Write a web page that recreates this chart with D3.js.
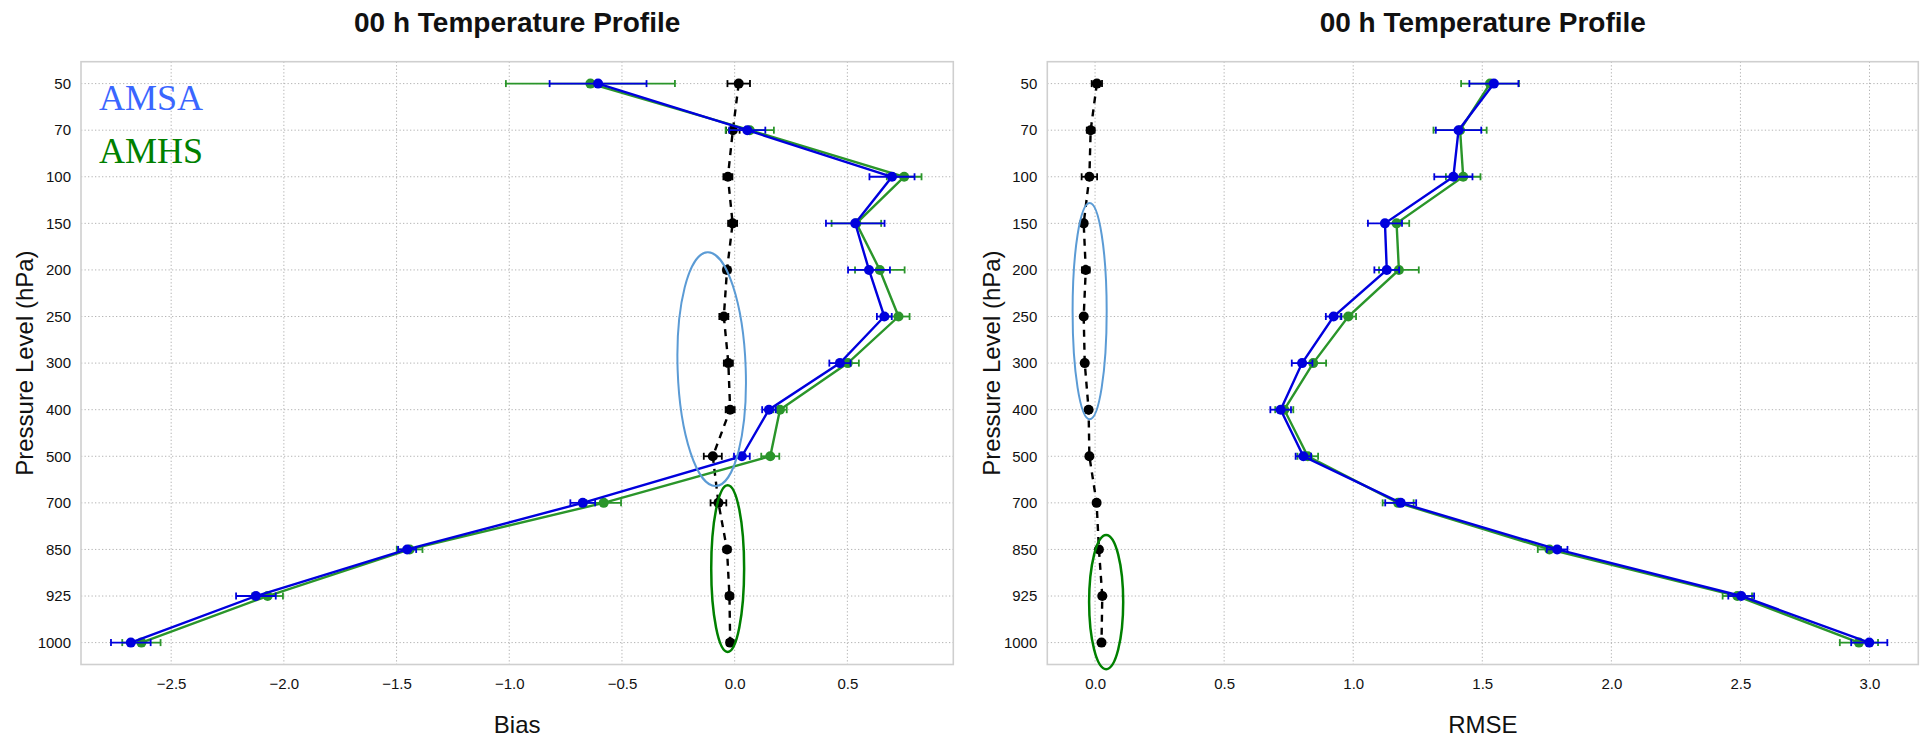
<!DOCTYPE html>
<html><head><meta charset="utf-8">
<script src="https://cdn.jsdelivr.net/npm/d3@7"></script>
<style>
body{margin:0;background:#fff;}
text{font-family:"Liberation Sans",Arial,Helvetica,sans-serif;fill:#111;}
</style>
</head><body>
<svg id="chart" width="1921" height="738"></svg>
<script>
// ---------------- DATA ----------------
const levels = ["50","70","100","150","200","250","300","400","500","700","850","925","1000"];

// Bias panel
const biasBlack    = [0.018,-0.008,-0.030,-0.009,-0.034,-0.048,-0.028,-0.020,-0.097,-0.072,-0.034,-0.023,-0.020];
const biasBlackErr = [0.050,0.030,0.020,0.020,0.015,0.020,0.020,0.020,0.040,0.035,0.015,0.015,0.015];
const biasAMSA     = [-0.606,0.056,0.698,0.535,0.596,0.664,0.467,0.152,0.032,-0.674,-1.453,-2.124,-2.679];
const biasAMSAErr  = [0.215,0.080,0.100,0.130,0.093,0.033,0.047,0.030,0.035,0.055,0.040,0.088,0.088];
const biasAMHS     = [-0.640,0.067,0.752,0.540,0.644,0.727,0.502,0.201,0.158,-0.581,-1.442,-2.072,-2.632];
const biasAMHSErr  = [0.375,0.107,0.077,0.110,0.110,0.049,0.049,0.030,0.040,0.077,0.057,0.068,0.085];

// RMSE panel
const rmseBlack    = [0.007,-0.017,-0.022,-0.044,-0.036,-0.044,-0.040,-0.025,-0.022,0.006,0.015,0.028,0.025];
const rmseBlackErr = [0.020,0.015,0.030,0.010,0.015,0.010,0.010,0.010,0.010,0.008,0.010,0.010,0.010];
const rmseAMSA     = [1.545,1.408,1.388,1.123,1.130,0.924,0.802,0.719,0.807,1.184,1.790,2.503,2.999];
const rmseAMSAErr  = [0.095,0.088,0.074,0.066,0.048,0.030,0.040,0.040,0.030,0.060,0.040,0.050,0.070];
const rmseAMHS     = [1.530,1.414,1.426,1.168,1.177,0.981,0.845,0.733,0.824,1.174,1.760,2.488,2.959];
const rmseAMHSErr  = [0.112,0.103,0.067,0.049,0.077,0.030,0.050,0.035,0.040,0.060,0.045,0.057,0.074];

const biasTicks = [-2.5,-2.0,-1.5,-1.0,-0.5,0.0,0.5];
const rmseTicks = [0.0,0.5,1.0,1.5,2.0,2.5,3.0];

const titleText = "00 h Temperature Profile";
const yLabel = "Pressure Level (hPa)";
const legendNames = ["AMSA","AMHS"];

// ---------------- STYLE ----------------
const C_BLUE = "#0000dd", C_GREEN = "#2a952a", C_BLACK = "#000";

const svg = d3.select("#chart");

const panels = [
  {left:81, right:953.3, top:61.7, bottom:664.5, domain:[-2.9,0.97], ticks:biasTicks, xlabel:"Bias",
   black:biasBlack, blackErr:biasBlackErr, amsa:biasAMSA, amsaErr:biasAMSAErr, amhs:biasAMHS, amhsErr:biasAMHSErr,
   ylabelX:33,
   ellipses:[{cx:-0.102, rx:0.151, ci:6.13, ri:2.51, color:"#5b9bd5", w:2, rot:-2},
             {cx:-0.031, rx:0.073, ci:10.41, ri:1.79, color:"#008000", w:2.5, rot:0}]},
  {left:1047.3, right:1918.3, top:61.7, bottom:664.5, domain:[-0.185,3.189], ticks:rmseTicks, xlabel:"RMSE",
   black:rmseBlack, blackErr:rmseBlackErr, amsa:rmseAMSA, amsaErr:rmseAMSAErr, amhs:rmseAMHS, amhsErr:rmseAMHSErr,
   ylabelX:1000,
   ellipses:[{cx:-0.021, rx:0.066, ci:4.885, ri:2.32, color:"#5b9bd5", w:2, rot:0},
             {cx:0.043, rx:0.066, ci:11.13, ri:1.44, color:"#008000", w:2.5, rot:0}]}
];

panels.forEach(p => {
  const x = d3.scaleLinear().domain(p.domain).range([p.left, p.right]);
  const y = d3.scalePoint().domain(levels).range([p.top, p.bottom]).padding(0.47);
  const g = svg.append("g");
  const cx = (p.left + p.right) / 2;

  // title
  g.append("text").attr("x", cx).attr("y", 32).attr("text-anchor","middle")
    .style("font-size","28px").style("font-weight","bold").text(titleText);

  // grid
  const grid = g.append("g").attr("stroke","#b4b4b4").attr("stroke-width",1).attr("stroke-dasharray","1.3,2.2");
  grid.selectAll("line.v").data(p.ticks).join("line")
    .attr("x1", d=>x(d)).attr("x2", d=>x(d)).attr("y1", p.top).attr("y2", p.bottom);
  grid.selectAll("line.h").data(levels).join("line")
    .attr("x1", p.left).attr("x2", p.right).attr("y1", d=>y(d)).attr("y2", d=>y(d));

  // border
  g.append("rect").attr("x", p.left).attr("y", p.top).attr("width", p.right-p.left).attr("height", p.bottom-p.top)
    .attr("fill","none").attr("stroke","#cfcfcf").attr("stroke-width",1.6);

  // axes
  const xAxis = d3.axisBottom(x).tickValues(p.ticks).tickFormat(d3.format(".1f")).tickSize(0).tickPadding(14);
  const xa = g.append("g").attr("transform", `translate(0,${p.bottom})`).call(xAxis);
  xa.select(".domain").remove();
  xa.selectAll("text").style("font-size","15px").attr("fill","#111");
  const yAxis = d3.axisLeft(y).tickSize(0).tickPadding(10);
  const ya = g.append("g").attr("transform", `translate(${p.left},0)`).call(yAxis);
  ya.select(".domain").remove();
  ya.selectAll("text").style("font-size","15px").attr("fill","#111");

  // labels
  g.append("text").attr("x", cx).attr("y", 733).attr("text-anchor","middle").style("font-size","24px").text(p.xlabel);
  g.append("text").attr("transform", `translate(${p.ylabelX},${(p.top+p.bottom)/2}) rotate(-90)`)
    .attr("text-anchor","middle").style("font-size","24px").text(yLabel);

  const plot = g.append("g");
  const line = d3.line().x(d=>x(d.v)).y(d=>y(d.l));

  function series(vals, errs, color, dashed, r) {
    const data = levels.map((l,i)=>({l, v:vals[i], e:errs[i]}));
    plot.append("path").datum(data).attr("d", line).attr("fill","none")
      .attr("stroke", color).attr("stroke-width", 2.4)
      .attr("stroke-dasharray", dashed ? "7,6" : null);
    const eb = plot.append("g").attr("stroke", color).attr("stroke-width", 1.8);
    eb.selectAll("line.bar").data(data).join("line")
      .attr("x1", d=>x(d.v-d.e)).attr("x2", d=>x(d.v+d.e)).attr("y1", d=>y(d.l)).attr("y2", d=>y(d.l));
    eb.selectAll("line.capl").data(data).join("line")
      .attr("x1", d=>x(d.v-d.e)).attr("x2", d=>x(d.v-d.e)).attr("y1", d=>y(d.l)-3.5).attr("y2", d=>y(d.l)+3.5);
    eb.selectAll("line.capr").data(data).join("line")
      .attr("x1", d=>x(d.v+d.e)).attr("x2", d=>x(d.v+d.e)).attr("y1", d=>y(d.l)-3.5).attr("y2", d=>y(d.l)+3.5);
    plot.append("g").selectAll("circle").data(data).join("circle")
      .attr("cx", d=>x(d.v)).attr("cy", d=>y(d.l)).attr("r", r).attr("fill", color);
  }
  series(p.black, p.blackErr, C_BLACK, true, 5);
  series(p.amhs, p.amhsErr, C_GREEN, false, 5);
  series(p.amsa, p.amsaErr, C_BLUE, false, 5);

  // annotation ellipses (in data units)
  const step = y.step();
  const y0 = y(levels[0]);
  p.ellipses.forEach(e => {
    const ex = x(e.cx), ey = y0 + e.ci*step;
    g.append("ellipse").attr("cx", ex).attr("cy", ey)
      .attr("rx", x(e.cx+e.rx)-ex).attr("ry", e.ri*step)
      .attr("transform", `rotate(${e.rot},${ex},${ey})`)
      .attr("fill","none").attr("stroke", e.color).attr("stroke-width", e.w);
  });
});

// legend words
svg.append("text").attr("x", 99).attr("y", 110).style("font-family","'Liberation Serif','Times New Roman',serif")
  .style("font-size","36px").style("fill","#3a66ff").text(legendNames[0]);
svg.append("text").attr("x", 99).attr("y", 163).style("font-family","'Liberation Serif','Times New Roman',serif")
  .style("font-size","36px").style("fill","#008000").text(legendNames[1]);
</script>
</body></html>
